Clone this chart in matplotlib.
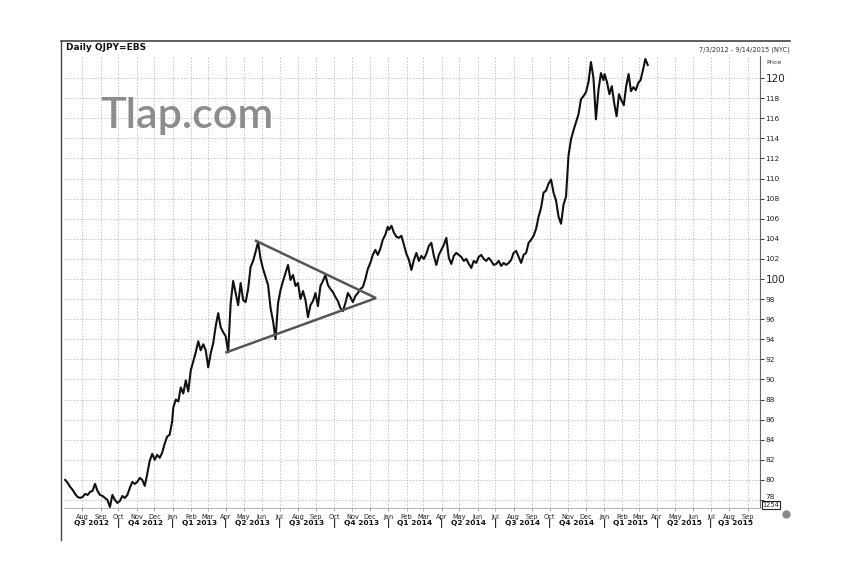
import numpy as np
import pandas as pd
import matplotlib
matplotlib.use('Agg')
import matplotlib.pyplot as plt
import matplotlib.dates as mdates
import matplotlib.transforms as mtransforms

# USD/JPY (QJPY=EBS), one reading about every third trading day
usdjpy_2012 = [80.0, 79.7, 79.3, 79.0, 78.6, 78.3, 78.2,
               78.3, 78.6, 78.5, 78.8, 78.9, 79.6, 78.9, 78.5,
               78.4, 78.2, 78.0, 77.3, 78.5, 78.0, 77.7,
               77.9, 78.4, 78.2, 78.5, 79.2, 79.8, 79.6, 79.8,
               80.2, 80.0, 79.4, 80.6, 81.9, 82.6, 82.0,
               82.5, 82.2, 82.7, 83.6, 84.3, 84.5, 85.8]
usdjpy_2013 = [87.2, 88.0, 87.8, 89.2, 88.6, 89.9, 88.8, 90.9,
               91.8, 92.7, 93.8, 92.9, 93.5, 92.9, 91.2,
               92.6, 93.6, 95.3, 96.6, 95.2, 94.7, 94.3,
               92.7, 97.6, 99.8, 98.6, 97.4, 99.6, 97.9,
               97.7, 99.0, 101.2, 101.8, 102.7, 103.7, 102.0, 101.0,
               100.2, 99.4, 97.1, 95.8, 94.0, 97.6, 98.9,
               99.8, 100.6, 101.4, 99.9, 100.4, 99.3, 99.6, 98.0,
               98.8, 97.9, 96.2, 97.4, 97.8, 98.6, 97.3,
               99.3, 99.8, 100.4, 99.4, 99.0, 98.7, 98.2,
               97.8, 97.1, 96.8, 97.6, 98.6, 98.2, 97.7, 98.3,
               98.6, 99.0, 99.2, 100.0, 101.0, 101.6, 102.4,
               102.9, 102.4, 103.0, 103.9, 104.4, 105.2]
usdjpy_2014 = [104.9, 105.3, 104.6, 104.2, 104.1, 104.3, 103.4, 102.5,
               101.9, 100.9, 101.9, 102.6, 101.8, 102.3, 102.0,
               102.5, 103.3, 103.6, 102.3, 101.4, 102.4, 102.9,
               103.4, 104.1, 102.1, 101.5, 102.3, 102.6, 102.4,
               102.2, 101.8, 102.0, 101.5, 101.1, 101.8, 101.6,
               102.2, 102.4, 102.0, 101.8, 102.1, 101.8, 101.4,
               101.5, 101.8, 101.3, 101.6, 101.4, 101.6, 101.9, 102.6,
               102.8, 102.2, 101.6, 102.4, 102.6, 103.6, 103.9,
               104.3, 105.0, 106.2, 107.1, 108.6, 108.8, 109.5,
               109.9, 108.6, 107.8, 106.2, 105.5, 107.4, 108.2, 112.3,
               113.9, 114.8, 115.6, 116.4, 117.9, 118.2, 118.6,
               119.6, 121.6, 120.0, 115.9, 118.8, 120.5, 119.8]
usdjpy_2015 = [120.4, 119.6, 118.4, 119.2, 117.5, 116.2, 118.4, 117.8,
               117.3, 119.2, 120.4, 118.7, 119.1, 118.8, 119.5,
               119.8, 120.8, 121.9, 121.3]

# converging trend lines (upper from the May high, lower from the April low)
tri_dates = ['2013-05-22', '2013-12-11', '2013-04-02']
tri_prices = [103.8, 98.1, 92.7]

y_ticks = list(range(78, 121, 2))

dates = pd.DatetimeIndex([])
for start, end, vals in [('2012-07-03', '2012-12-31', usdjpy_2012),
                         ('2013-01-02', '2013-12-31', usdjpy_2013),
                         ('2014-01-02', '2014-12-31', usdjpy_2014),
                         ('2015-01-02', '2015-03-16', usdjpy_2015)]:
    dates = dates.append(pd.date_range(start, end, periods=len(vals)))
prices = usdjpy_2012 + usdjpy_2013 + usdjpy_2014 + usdjpy_2015

W, H = 855, 567
fig = plt.figure(figsize=(W / 100, H / 100), dpi=100)
ax = fig.add_axes([64 / W, 1 - 508 / H, (760 - 64) / W, (508 - 56) / H])

ax.plot(dates, prices, color='#111111', lw=1.5)
ax.plot(pd.to_datetime(tri_dates), tri_prices, color='#555555', lw=1.8,
        solid_joinstyle='miter')

xmin, xmax = pd.Timestamp('2012-07-01'), pd.Timestamp('2015-09-22')
ax.set_xlim(xmin, xmax)
ax.set_ylim(77.2, 122.2)

# y axis on the right
ax.yaxis.tick_right()
ax.set_yticks(y_ticks)
ax.set_yticklabels([str(v) for v in y_ticks])
for lab, v in zip(ax.get_yticklabels(), y_ticks):
    lab.set_fontsize(7.5 if v in (100, 120) else 5.3)
    lab.set_color('#222222')
    if v == 78:
        lab.set_va('bottom')
ax.tick_params(axis='y', length=3, width=0.7, pad=1, color='#333333')

# months
months = pd.date_range('2012-08-01', '2015-09-01', freq='MS')
ax.set_xticks(months)
ax.xaxis.set_major_formatter(mdates.DateFormatter('%b'))
ax.tick_params(axis='x', length=2, width=0.5, labelsize=4.8, pad=2,
               color='#888888', labelcolor='#222222')

ax.grid(True, linestyle=(0, (2, 2)), color='#bababa', lw=0.55)
for s in ['top', 'left']:
    ax.spines[s].set_visible(False)
ax.spines['bottom'].set_color('#aaaaaa')
ax.spines['bottom'].set_linewidth(0.6)
ax.spines['right'].set_color('#666666')
ax.spines['right'].set_linewidth(0.8)

# quarter labels below the months
trans = mtransforms.blended_transform_factory(ax.transData, ax.transAxes)
qstarts = pd.date_range('2012-07-01', '2015-07-01', freq='QS')
for q in qstarts:
    qend = q + pd.offsets.QuarterBegin(startingMonth=1)
    lo, hi = max(q, xmin), min(qend, xmax)
    mid = lo + (hi - lo) / 2
    ax.text(mid, -0.034, 'Q%d %d' % (q.quarter, q.year), transform=trans,
            ha='center', va='center', fontsize=5.4, fontweight='bold',
            color='#111111')
    if q > xmin:
        ax.text(q, -0.034, '|', transform=trans, ha='center', va='center',
                fontsize=6.5, fontweight='bold', color='#111111')

# frame around the chart
fig.add_artist(plt.Line2D([61 / W, 790 / W], [1 - 41 / H, 1 - 41 / H],
                          color='#444444', lw=1.2))
fig.add_artist(plt.Line2D([61 / W, 61 / W], [1 - 41 / H, 1 - 540 / H],
                          color='#444444', lw=1.0))

fig.text(66 / W, 1 - 48 / H, 'Daily QJPY=EBS', fontsize=6.5,
         fontweight='bold', va='center', ha='left', color='#111111')
fig.text(790 / W, 1 - 50 / H, '7/3/2012 - 9/14/2015 (NYC)', fontsize=4.8,
         va='center', ha='right', color='#333333')
fig.text(766 / W, 1 - 62 / H, 'Price', fontsize=4.5, va='center',
         ha='left', color='#333333')

fig.text(100 / W, 1 - 116 / H, 'Tlap.com', fontsize=31, family='Lato',
         fontweight='semibold', va='center', ha='left', color='#8c8c8c')

fig.text(771 / W, 1 - 505 / H, '1254', fontsize=4.8, va='center',
         ha='center', color='#222222',
         bbox=dict(boxstyle='square,pad=0.12', fc='white', ec='#222222',
                   lw=0.8))
fig.add_artist(plt.Line2D([786 / W], [1 - 514 / H], marker='o',
                          markersize=5, color='#888888', lw=0))

fig.savefig('out.png', dpi=100, facecolor='white')
